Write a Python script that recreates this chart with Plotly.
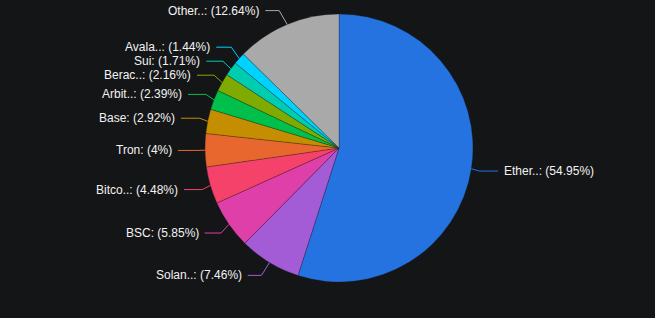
import math
import plotly.graph_objects as go

labels = ["Ether..", "Solan..", "BSC", "Bitco..", "Tron", "Base", "Arbit..", "Berac..", "Sui", "Avala..", "Other.."]
values = [54.95, 7.46, 5.85, 4.48, 4.0, 2.92, 2.39, 2.16, 1.71, 1.44, 12.64]
colors = ["#2473E0", "#A45BD6", "#DE3FA8", "#F5426A", "#E8672F", "#C48E00",
          "#00C04B", "#7FAA00", "#00CCB0", "#00D2FF", "#A9A9A9"]

W, H = 655, 318
BG = "#141517"
CX, CY, R = 339, 148, 134   # pie geometry in pixels
RY = 149                    # vertical label radius
RX = 166                    # horizontal label radius
MIN_GAP = 14

def px(x):
    return x / W

def py(y):
    return 1 - y / H

fig = go.Figure(go.Pie(
    labels=labels, values=values, sort=False, direction="clockwise", rotation=0,
    marker=dict(colors=colors, line=dict(color="rgba(20,21,23,0.45)", width=0.6)),
    textinfo="none", hoverinfo="label+percent", showlegend=False,
    domain=dict(x=[px(CX - R), px(CX + R)], y=[py(CY + R), py(CY - R)]),
))

total = sum(values)
cum = 0
items = []
for lab, v, c in zip(labels, values, colors):
    mid = (cum + v / 2) / total * 2 * math.pi
    cum += v
    s, co = math.sin(mid), math.cos(mid)
    items.append(dict(label=lab, v=v, color=c, s=s, c=co,
                      tx=CX + R * s, ty=CY - R * co,
                      ly=CY - RY * co, left=s < 0))

# simple overlap relaxation per side
for side in (True, False):
    grp = sorted([it for it in items if it["left"] == side], key=lambda d: d["ly"])
    for _ in range(50):
        moved = False
        for a, b in zip(grp, grp[1:]):
            gap = b["ly"] - a["ly"]
            if gap < MIN_GAP - 1e-6:
                d = (MIN_GAP - gap) / 2
                a["ly"] -= d
                b["ly"] += d
                moved = True
        if not moved:
            break
    for it in grp:
        it["ly"] = min(max(it["ly"], 10), H - 12)

shapes = []
annotations = []
for it in items:
    sign = -1 if it["left"] else 1
    dy = it["ly"] - CY
    off_y = math.sqrt(max(RX ** 2 - dy ** 2, 0))
    off_a = RX * abs(it["s"])
    lx = CX + sign * (off_y + off_a) / 2
    ex = it["tx"] + sign * 8
    end = lx - sign * 5
    path = f"M {px(it['tx'])} {py(it['ty'])} L {px(ex)} {py(it['ly'])} L {px(end)} {py(it['ly'])}"
    shapes.append(dict(type="path", xref="paper", yref="paper", path=path,
                       line=dict(color=it["color"], width=1)))
    pct = f"{it['v']:g}"
    annotations.append(dict(
        xref="paper", yref="paper", x=px(lx), y=py(it["ly"]),
        xanchor="right" if it["left"] else "left", yanchor="middle",
        text=f"{it['label']}: ({pct}%)", showarrow=False,
        font=dict(family="Liberation Sans, Arial, sans-serif", size=12, color="#F2F2F2"),
        borderpad=0,
    ))

fig.update_layout(
    width=W, height=H, margin=dict(l=0, r=0, t=0, b=0),
    paper_bgcolor=BG, plot_bgcolor=BG,
    shapes=shapes, annotations=annotations,
)

fig.write_html("out.html")
